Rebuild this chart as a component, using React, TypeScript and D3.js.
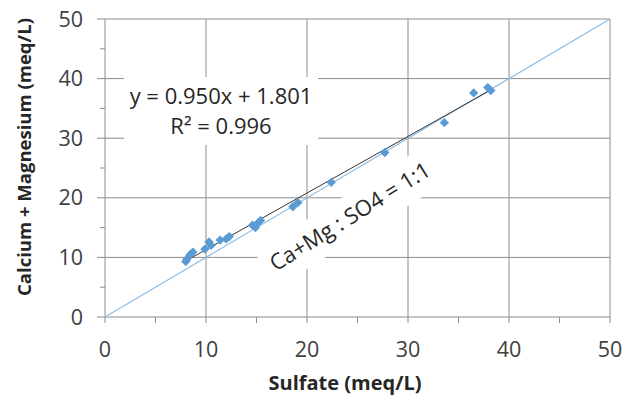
import React from "react";
import * as d3 from "d3";

const sulfate = [8.0, 8.1, 8.4, 8.7, 9.9, 10.3, 10.5, 11.4, 12.0, 12.3, 14.6, 14.9, 15.1, 15.4, 18.6, 19.1, 22.4, 27.7, 33.6, 36.5, 37.9, 38.2];
const caMg = [9.3, 9.7, 10.4, 10.9, 11.4, 12.6, 12.0, 12.9, 13.1, 13.5, 15.4, 15.0, 15.7, 16.2, 18.5, 19.2, 22.6, 27.6, 32.6, 37.6, 38.5, 38.0];
const majorTicks = [0, 10, 20, 30, 40, 50];
const minorTicks = [5, 15, 25, 35, 45];
const slope = 0.95;
const intercept = 1.801;
const eqLine1 = "y = 0.950x + 1.801";
const eqLine2 = "R² = 0.996";
const ratioLabel = "Ca+Mg : SO4 = 1:1";
const xTitle = "Sulfate (meq/L)";
const yTitle = "Calcium + Magnesium (meq/L)";

const W = 627, H = 398;
const L = 105, R = 610, T = 19, B = 317;
const font = "'Open Sans', sans-serif";
const grid = "#8c8c8c";

export default function App() {
  const x = d3.scaleLinear().domain([0, 50]).range([L, R]);
  const y = d3.scaleLinear().domain([0, 50]).range([B, T]);
  const xMin = d3.min(sulfate) as number;
  const xMax = d3.max(sulfate) as number;
  const diamond = d3.symbol().type(d3.symbolDiamond2).size(55)() as string;
  const ang = -32;
  const lblX = 354, lblY = 223;
  return (
    <svg width={W} height={H} style={{ position: "absolute", left: 0, top: 0, background: "#fff" }}>
      <rect x={0} y={0} width={W} height={H} fill="#fff" />
      {majorTicks.map((t) => (
        <g key={"g" + t}>
          <line x1={x(t)} x2={x(t)} y1={T} y2={B + 6} stroke={grid} strokeWidth={1} />
          <line x1={L - 8} x2={R} y1={y(t)} y2={y(t)} stroke={grid} strokeWidth={1} />
        </g>
      ))}
      {minorTicks.map((t) => (
        <g key={"m" + t}>
          <line x1={x(t)} x2={x(t)} y1={B} y2={B + 6} stroke={grid} strokeWidth={1} />
          <line x1={L - 5} x2={L} y1={y(t)} y2={y(t)} stroke={grid} strokeWidth={1} />
        </g>
      ))}
      {/* label boxes */}
      <rect x={124} y={77} width={194} height={68} fill="#fff" />
      <g transform={`translate(${lblX},${lblY}) rotate(${ang})`}>
        <rect x={-100} y={-28} width={200} height={42} fill="#fff" />
      </g>
      {/* 1:1 line */}
      <line x1={x(0)} y1={y(0)} x2={x(50)} y2={y(50)} stroke="#8fbde3" strokeWidth={1.2} />
      {/* trendline */}
      <line x1={x(xMin)} y1={y(slope * xMin + intercept)} x2={x(xMax)} y2={y(slope * xMax + intercept)} stroke="#333" strokeWidth={1} />
      {sulfate.map((s, i) => (
        <path key={i} d={diamond} transform={`translate(${x(s)},${y(caMg[i])})`} fill="#5b9bd5" />
      ))}
      {/* tick labels */}
      {majorTicks.map((t) => (
        <text key={"xl" + t} x={x(t)} y={357} textAnchor="middle" fontFamily={font} fontSize={21.5} fill="#404040">{t}</text>
      ))}
      {majorTicks.map((t) => (
        <text key={"yl" + t} x={83} y={y(t) + 7.5} textAnchor="end" fontFamily={font} fontSize={21.5} fill="#404040">{t}</text>
      ))}
      <text x={345} y={390} textAnchor="middle" fontFamily={font} fontSize={20} fontWeight="bold" fill="#262626">{xTitle}</text>
      <text transform={`translate(31,157) rotate(-90)`} textAnchor="middle" fontFamily={font} fontSize={18.5} fontWeight="bold" fill="#262626">{yTitle}</text>
      <text x={221} y={104} textAnchor="middle" fontFamily={font} fontSize={22} fill="#262626">{eqLine1}</text>
      <text x={221} y={134} textAnchor="middle" fontFamily={font} fontSize={22} fill="#262626">{eqLine2}</text>
      <text transform={`translate(${lblX},${lblY}) rotate(${ang})`} textAnchor="middle" fontFamily={font} fontSize={22} fill="#262626">{ratioLabel}</text>
    </svg>
  );
}
